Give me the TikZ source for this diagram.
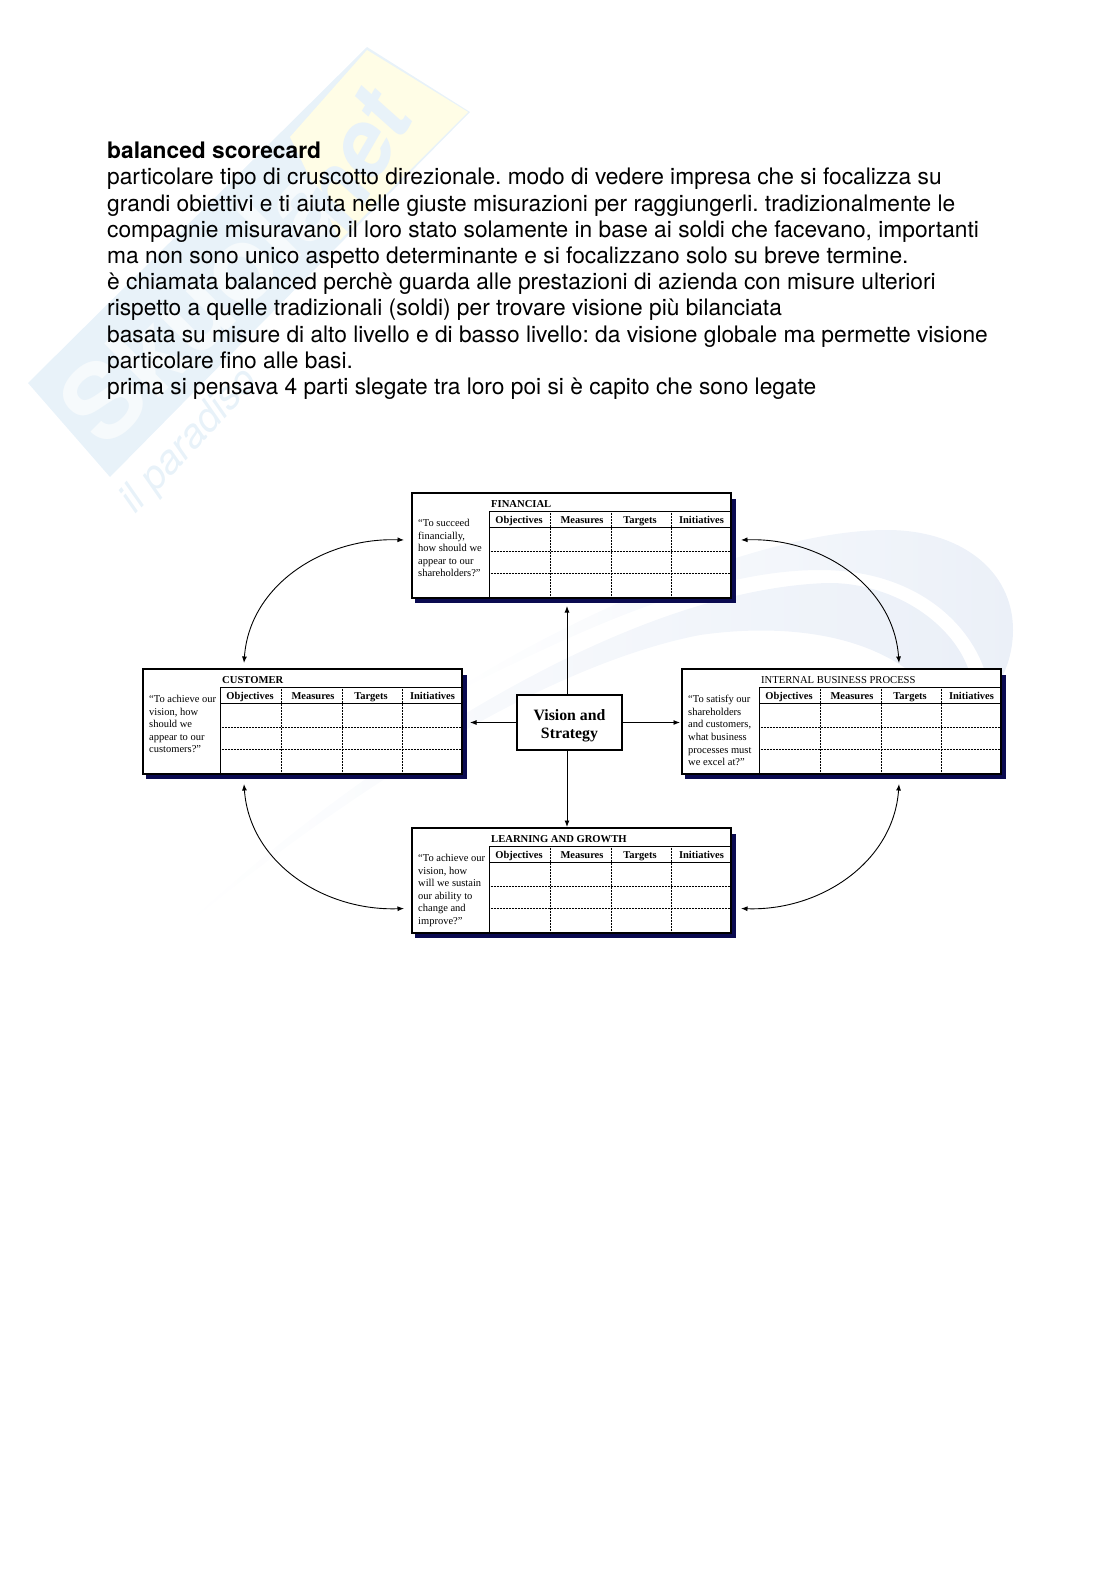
\documentclass[tikz,border=0pt]{standalone}
\usepackage{fontspec}
\setmainfont{Liberation Serif}
\newfontfamily\bodyfont{TeX Gyre Heros}
\usetikzlibrary{arrows.meta}
\tikzset{>={Latex[length=6.5pt,width=5pt]}}
\definecolor{markblue}{HTML}{E8F2F9}
\definecolor{markletter}{HTML}{F6FAFC}
\definecolor{markyellow}{HTML}{FFFDE6}
\definecolor{markswoosh}{HTML}{EBF0F8}
\definecolor{shadownavy}{HTML}{0A0A50}
\tikzset{
    bodytext/.style={anchor=north west, inner sep=0pt, align=left, font=\frenchspacing\bodyfont\fontsize{22.75}{26.2}\selectfont},
    cardbox/.style={draw=black, line width=2pt, fill=white, anchor=north west, minimum width=319pt, minimum height=105pt, inner sep=0pt, outer sep=0pt},
    cardtitle/.style={anchor=base west, inner sep=0pt, font=\fontsize{10.6}{12}\selectfont},
    cardhead/.style={anchor=base, inner sep=0pt, font=\bfseries\fontsize{10.5}{12}\selectfont},
    cardquote/.style={anchor=north west, inner sep=0pt, align=left, font=\fontsize{10.5}{12.6}\selectfont},
    visionbox/.style={draw=black, line width=1.2pt, fill=white, minimum width=105pt, minimum height=55pt, inner sep=0pt, outer sep=0pt, align=center, font=\bfseries\fontsize{15.8}{18}\selectfont},
    link/.style={black, line width=0.9pt},
}
% name, left, top, title, quote
\newcommand{\scorecard}[5]{
    \fill[shadownavy] (#2+3,#3+6) rectangle (#2+324,#3+110);
    \node[cardbox] (#1) at (#2,#3) {};
    \draw[line width=1pt] ([shift={(77,18)}]#1.north west) -- ([shift={(77,0)}]#1.south west);
    \draw[line width=1pt] ([shift={(77,18)}]#1.north west) -- ([shift={(0,18)}]#1.north east);
    \draw[line width=1pt] ([shift={(77,34)}]#1.north west) -- ([shift={(0,34)}]#1.north east);
    \foreach \r in {58,80} {
        \draw[densely dotted, line width=0.5pt] ([shift={(77,\r)}]#1.north west) -- ([shift={(0,\r)}]#1.north east);
    }
    \foreach \c in {138,199,259} {
        \draw[densely dotted, line width=0.5pt] ([shift={(\c,18)}]#1.north west) -- ([shift={(\c,0)}]#1.south west);
    }
    \node[cardtitle] (#1title) at ([shift={(79,14)}]#1.north west) {#4};
    \node[cardhead] (#1objectives) at ([shift={(107,30)}]#1.north west) {Objectives};
    \node[cardhead] (#1measures) at ([shift={(170,30)}]#1.north west) {Measures};
    \node[cardhead] (#1targets) at ([shift={(228,30)}]#1.north west) {Targets};
    \node[cardhead] (#1initiatives) at ([shift={(289.5,30)}]#1.north west) {Initiatives};
    \node[cardquote] (#1quote) at ([shift={(6,26)}]#1.north west) {#5};
}

\begin{document}
\begin{tikzpicture}[x=1pt,y=-1pt]
    \useasboundingbox (0,0) rectangle (1116,1579);

    % watermark
    \fill[markblue] (28,383) -- (367,47) -- (470,112) -- (110,477) -- cycle;
    \fill[markyellow] (367,50) -- (468,112) -- (340,240) -- (290,137) -- cycle;
    \node[rotate=45, anchor=west, inner sep=0pt, text=markletter, font=\bfseries\bodyfont\fontsize{105}{105}\selectfont] (markname) at (78,425) {Skuola};
    \node[rotate=60, text=markblue, font=\bfseries\itshape\bodyfont\fontsize{92}{92}\selectfont] (marknet) at (355,160) {net};
    \node[rotate=47, anchor=west, inner sep=0pt, text=markblue, font=\itshape\bodyfont\fontsize{40}{40}\selectfont] (markmotto) at (128,508) {il paradiso};
    \shade[left color=white, right color=markswoosh] (440,700) .. controls (560,620) and (760,530) .. (887,530)
        .. controls (960,530) and (1013,570) .. (1013,630)
        .. controls (1013,660) and (1000,685) .. (990,695)
        .. controls (985,640) and (930,570) .. (820,570)
        .. controls (700,570) and (560,640) .. cycle;
    \shade[left color=white, right color=markswoosh] (177,933) .. controls (350,770) and (620,590) .. (827,583)
        .. controls (890,582) and (950,620) .. (968,668)
        -- (905,668)
        .. controls (850,630) and (770,625) .. (700,635)
        .. controls (520,670) and (300,830) .. cycle;

    \node[bodytext] (heading) at (107,141.5) {\bfseries balanced scorecard};
    \node[bodytext] (bodypar) at (107,168) {particolare tipo di cruscotto direzionale. modo di vedere impresa che si focalizza su\\
        grandi obiettivi e ti aiuta nelle giuste misurazioni per raggiungerli. tradizionalmente le\\
        compagnie misuravano il loro stato solamente in base ai soldi che facevano, importanti\\
        ma non sono unico aspetto determinante e si focalizzano solo su breve termine.\\
        è chiamata balanced perchè guarda alle prestazioni di azienda con misure ulteriori\\
        rispetto a quelle tradizionali (soldi) per trovare visione più bilanciata\\
        basata su misure di alto livello e di basso livello: da visione globale ma permette visione\\
        particolare fino alle basi.\\
        prima si pensava 4 parti slegate tra loro poi si è capito che sono legate};

    \scorecard{financial}{412}{493}{\textbf{FINANCIAL}}{“To succeed\\financially,\\how should we\\appear to our\\shareholders?”}
    \scorecard{customer}{143}{669}{\textbf{CUSTOMER}}{“To achieve our\\vision, how\\should we\\appear to our\\customers?”}
    \scorecard{internal}{682}{669}{INTERNAL BUSINESS PROCESS}{“To satisfy our\\shareholders\\and customers,\\what business\\processes must\\we excel at?”}
    \scorecard{learning}{412}{828}{\textbf{LEARNING AND GROWTH}}{“To achieve our\\vision, how\\will we sustain\\our ability to\\change and\\improve?”}

    \node[visionbox] (vision) at (569.5,722.5) {\rule{0pt}{18pt}Vision and\\Strategy};

    \draw[link,->] ([xshift=-2.5pt]vision.north) -- ([xshift=-4.5pt,yshift=-8pt]financial.south);
    \draw[link,->] ([xshift=-2.5pt]vision.south) -- ([xshift=-4.5pt,yshift=1pt]learning.north);
    \draw[link,->] (vision.west) -- ([xshift=8pt,yshift=-1pt]customer.east);
    \draw[link,->] (vision.east) -- ([xshift=-2pt,yshift=-1pt]internal.west);

    \draw[link,<->] ([shift={(-58.5,-6)}]customer.north) to[out=86,in=178] ([shift={(-8,-5.5)}]financial.west);
    \draw[link,<->] ([shift={(57.5,-6)}]internal.north) to[out=94,in=2] ([shift={(10,-5.5)}]financial.east);
    \draw[link,<->] ([shift={(-58.5,10)}]customer.south) to[out=-86,in=182] ([shift={(-8,28)}]learning.west);
    \draw[link,<->] ([shift={(57.5,10)}]internal.south) to[out=-94,in=-2] ([shift={(10,28)}]learning.east);
\end{tikzpicture}
\end{document}
